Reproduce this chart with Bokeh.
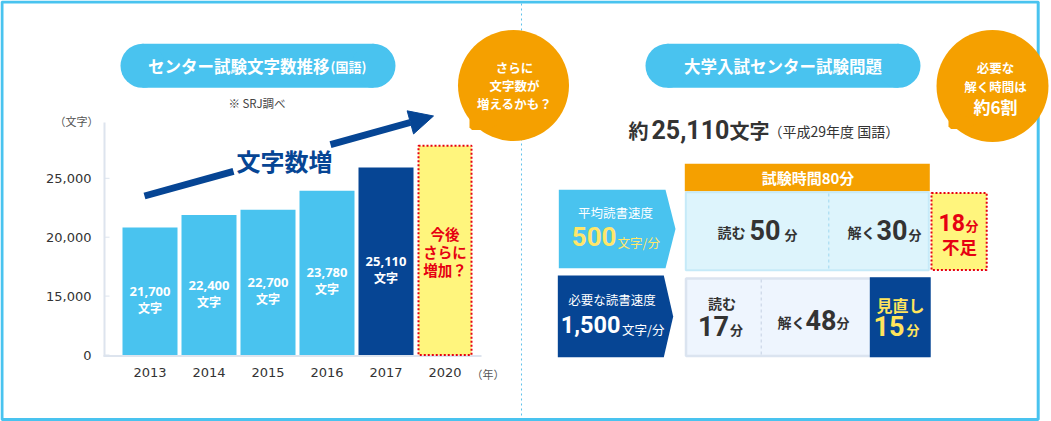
from bokeh.plotting import figure
from bokeh.models import Range1d, Arrow, NormalHead
from bokeh.embed import file_html
from bokeh.resources import INLINE
from bokeh.core.properties import value

# ---------------- data ----------------
years = ["2013", "2014", "2015", "2016", "2017", "2020"]
char_counts = [21700, 22400, 22700, 23780, 25110]
future_box_top = 26340          # 2020: unknown value, box height
tick_labels = ["0", "15,000", "20,000", "25,000"]
future_note = ["今後", "さらに", "増加？"]

total_chars = 25110
exam_minutes = 80
avg_speed = 500
need_speed = 1500
avg_read, avg_solve = 50, 30
shortfall = 18
need_read, need_solve, review = 17, 48, 15

# ---------------- style ----------------
LIGHT = "#49c3ef"
DARK = "#064594"
ORANGE = "#f5a000"
YELLOW = "#fff57d"
RED = "#e60012"
INK = "#333333"
JP = "Noto Sans CJK JP"
NUM = "Roboto"

W, H = 1051, 421
p = figure(width=W, height=H, x_range=Range1d(0, W), y_range=Range1d(H, 0),
           min_border=0, toolbar_location=None, output_backend="svg",
           x_axis_type=None, y_axis_type=None)
p.grid.visible = False
p.outline_line_color = None
p.background_fill_color = "white"
p.border_fill_color = "white"

# bar chart scales (category index / value) mapped into the canvas
BAR_X0, BAR_DX = 149.5, 59.0
BAR_BASE_PX, BAR_BASE_VAL, BAR_PX_PER_VAL = 354.5, 14450, 0.01760
TICK_PX0, TICK_STEP = 354.5, 58.9
p.extra_x_ranges["yr"] = Range1d((0 - BAR_X0) / BAR_DX, (W - BAR_X0) / BAR_DX)
p.extra_y_ranges["bar"] = Range1d(BAR_BASE_VAL - (H - BAR_BASE_PX) / BAR_PX_PER_VAL,
                                  BAR_BASE_VAL + BAR_BASE_PX / BAR_PX_PER_VAL)
p.extra_y_ranges["tick"] = Range1d(-(H - TICK_PX0) / TICK_STEP, TICK_PX0 / TICK_STEP)


def txt(x, y, s, size, color=INK, font=JP, style="bold", align="left",
        baseline="middle", **kw):
    xs = x if isinstance(x, list) else None
    ys = y if isinstance(y, list) else None
    ss = s if isinstance(s, list) else None
    n = max(len(v) for v in (xs, ys, ss, [0]) if v is not None)
    xs = xs or [x] * n
    ys = ys or [y] * n
    ss = ss or [s] * n
    p.text(x=xs, y=ys, text=ss,
           text_font=value(font), text_font_size=f"{size}px",
           text_font_style=style, text_color=color, text_align=align,
           text_baseline=baseline, **kw)


# ---------------- frame & divider ----------------
p.quad(left=[1.5], right=[1037.7], top=[1.5], bottom=[419.0], fill_color=None,
       line_color=LIGHT, line_width=3)
p.line([521, 521], [3, 417], line_color="#5fc2ea", line_width=1, line_dash="2 3")

# ---------------- speech bubbles ----------------
for cx, cy, r, dy in [(513, 85, 55.5, 0), (992, 85.5, 56, -1)]:
    dx = cx - 513
    p.circle(x=[cx], y=[cy], radius=r, fill_color=ORANGE, line_color=None)
    p.patch([469 + dx, 469 + dx, 471.5 + dx, 487 + dx, 500 + dx],
            [110 + dy, 127 + dy, 129.5 + dy, 129.5 + dy, 122 + dy],
            fill_color=ORANGE, line_color=None)
txt(514, [66.7, 85, 103], ["さらに", "文字数が", "増えるかも？"], 12.5, "white", align="center")
txt(995, [66.7, 85.5], ["必要な", "解く時間は"], 12.5, "white", align="center")
txt(995, 106, "約6割", 17, "white", align="center")

# ---------------- title pills ----------------
for x0, x1 in [(120, 395), (645, 920)]:
    r = 22
    p.quad(left=[x0 + r], right=[x1 - r], top=[43.3], bottom=[87.3],
           fill_color=LIGHT, line_color=None)
    p.circle(x=[x0 + r, x1 - r], y=[65.3, 65.3], radius=r, fill_color=LIGHT, line_color=None)
txt(147.5, 65.5, "センター試験文字数推移", 16.5, "white")
txt(330, 66, "(国語)", 13, "white")
txt(782.5, 65.5, "大学入試センター試験問題", 16.5, "white", align="center")
txt(256.5, 102.7, "※ SRJ調べ", 11.5, "#444444", style="normal", align="center")

# ---------------- bar chart ----------------
p.line([104, 104], [122, 356], line_color="#dde4ee", line_width=2)
p.line([103, 481], [355.5, 355.5], line_color="#dde4ee", line_width=2)
p.segment(x0=[104] * 4, x1=[109] * 4, y0=list(range(4)), y1=list(range(4)),
          y_range_name="tick", line_color="#dde4ee", line_width=1)
txt(91, list(range(4)), tick_labels, 13, INK, font="DejaVu Sans", style="normal",
    align="right", y_range_name="tick")
txt(76, 120, "（文字）", 11, "#555555", style="normal", align="center")
txt(471, 373.5, "（年）", 11, "#555555", style="normal")

n = len(char_counts)
p.vbar(x=list(range(n)), top=char_counts, bottom=BAR_BASE_VAL, width=55 / 59,
       x_range_name="yr", y_range_name="bar",
       fill_color=[LIGHT] * (n - 1) + [DARK], line_color=None)
p.vbar(x=[n], top=[future_box_top], bottom=BAR_BASE_VAL, width=53 / 59,
       x_range_name="yr", y_range_name="bar",
       fill_color=YELLOW, line_color=RED, line_width=2, line_dash="2 2")
mids = [(BAR_BASE_VAL + v) / 2 for v in char_counts]
txt(list(range(n)), mids, [f"{v:,}" for v in char_counts], 13, "white",
    font="Noto Sans", align="center", x_range_name="yr", y_range_name="bar")
txt(list(range(n)), mids, ["文字"] * n, 12, "white", align="center",
    y_offset=16, x_range_name="yr", y_range_name="bar")
txt([n] * 3, [232.7, 250.5, 268.5], future_note, 14.5, RED, align="center",
    x_range_name="yr")
txt(list(range(len(years))), [372] * len(years), years, 13, INK,
    font="DejaVu Sans", style="normal", align="center", x_range_name="yr")

# trend arrow broken by its caption
ax0, ay0, ax1, ay1 = 144, 195.5, 433, 115.5
gap0, gap1 = 233, 330
def ya(x):
    return ay0 + (ay1 - ay0) * (x - ax0) / (ax1 - ax0)
p.line([ax0, gap0], [ay0, ya(gap0)], line_color=DARK, line_width=7, line_cap="butt")
p.add_layout(Arrow(x_start=gap1, y_start=ya(gap1), x_end=ax1, y_end=ay1,
                   line_color=DARK, line_width=7,
                   end=NormalHead(size=24, fill_color=DARK, line_color=DARK, line_width=1)))
txt(284, 159.5, "文字数増", 24, DARK, align="center")

# ---------------- right panel ----------------
txt(628, 129.5, "約", 20, INK)
txt(651, 128.5, f"{total_chars:,}", 25, INK, font=NUM)
txt(729, 129.5, "文字", 20, INK)
txt(768, 130.5, "（平成29年度 国語）", 14, INK, style="normal")

# header
p.quad(left=[684.3], right=[929.3], top=[163.3], bottom=[190.7], fill_color=ORANGE, line_color=None)
txt(807.5, 177.3, f"試験時間{exam_minutes}分", 15, "white", align="center")

# row 1
p.quad(left=[685.3], right=[928.3], top=[191.7], bottom=[269.7], fill_color="#ddf4fc",
       line_color="#c6eaf8", line_width=2)
p.line([828.3, 828.3], [193, 269], line_color="#9fd7ef", line_width=1, line_dash="3 3")
txt(717, 231.5, "読む", 14, INK)
txt(749, 229.5, f"{avg_read}", 27, INK, font=NUM)
txt(784, 233.5, "分", 13, INK)
txt(847, 231.5, "解く", 14, INK)
txt(876, 229.5, f"{avg_solve}", 27, INK, font=NUM)
txt(908, 233.5, "分", 13, INK)

p.quad(left=[931], right=[986.2], top=[192.5], bottom=[269.5], fill_color=YELLOW,
       line_color=RED, line_width=2, line_dash="2 2")
txt(938, 221.5, f"{shortfall}", 23, RED, font=NUM)
txt(965, 224.5, "分", 13, RED)
txt(959, 245.5, "不足", 17.5, RED, align="center")

# row 2
p.quad(left=[685.5], right=[929], top=[278], bottom=[355.5], fill_color="#eef5fe",
       line_color="#dbe4f0", line_width=2.5)
p.line([760.7, 760.7], [279, 355], line_color="#c4d0e3", line_width=1, line_dash="3 3")
p.quad(left=[869.3], right=[930.2], top=[276.7], bottom=[356.7], fill_color=DARK, line_color=None)
txt(721.5, 302, "読む", 14, INK, align="center")
txt(728.5, 325, f"{need_read}", 27, INK, font=NUM, align="right")
txt(729.5, 329, "分", 13, INK)
txt(777, 321, "解く", 14, INK)
txt(805, 319, f"{need_solve}", 27, INK, font=NUM)
txt(836, 322, "分", 13, INK)
txt(900, 304.5, "見直し", 16, "#ffe45c", align="center")
txt(904, 325, f"{review}", 27, "#ffe45c", font=NUM, align="right")
txt(906, 329, "分", 13, "#ffe45c")

# speed labels (arrow-shaped)
p.patch([558.3, 665, 675, 665, 558.3], [189.3, 189.3, 228.5, 267.7, 267.7],
        fill_color=LIGHT, line_color=None)
p.patch([557.3, 663.3, 672.7, 663.3, 557.3], [275, 275, 316, 356.7, 356.7],
        fill_color=DARK, line_color=None)
txt(615, 212, "平均読書速度", 12.5, "white", style="normal", align="center")
txt(616, 235.5, f"{avg_speed}", 26, "#ffe66a", font=NUM, align="right")
txt(617, 241.5, "文字/分", 12.5, "#ffe66a", style="normal")
txt(611.5, 298.5, "必要な読書速度", 12.5, "white", style="normal", align="center")
txt(620, 323.5, f"{need_speed:,}", 23.5, "white", font=NUM, align="right")
txt(621.5, 328.5, "文字/分", 12.5, "white", style="normal")

open("out.html", "w").write(file_html(p, INLINE))
